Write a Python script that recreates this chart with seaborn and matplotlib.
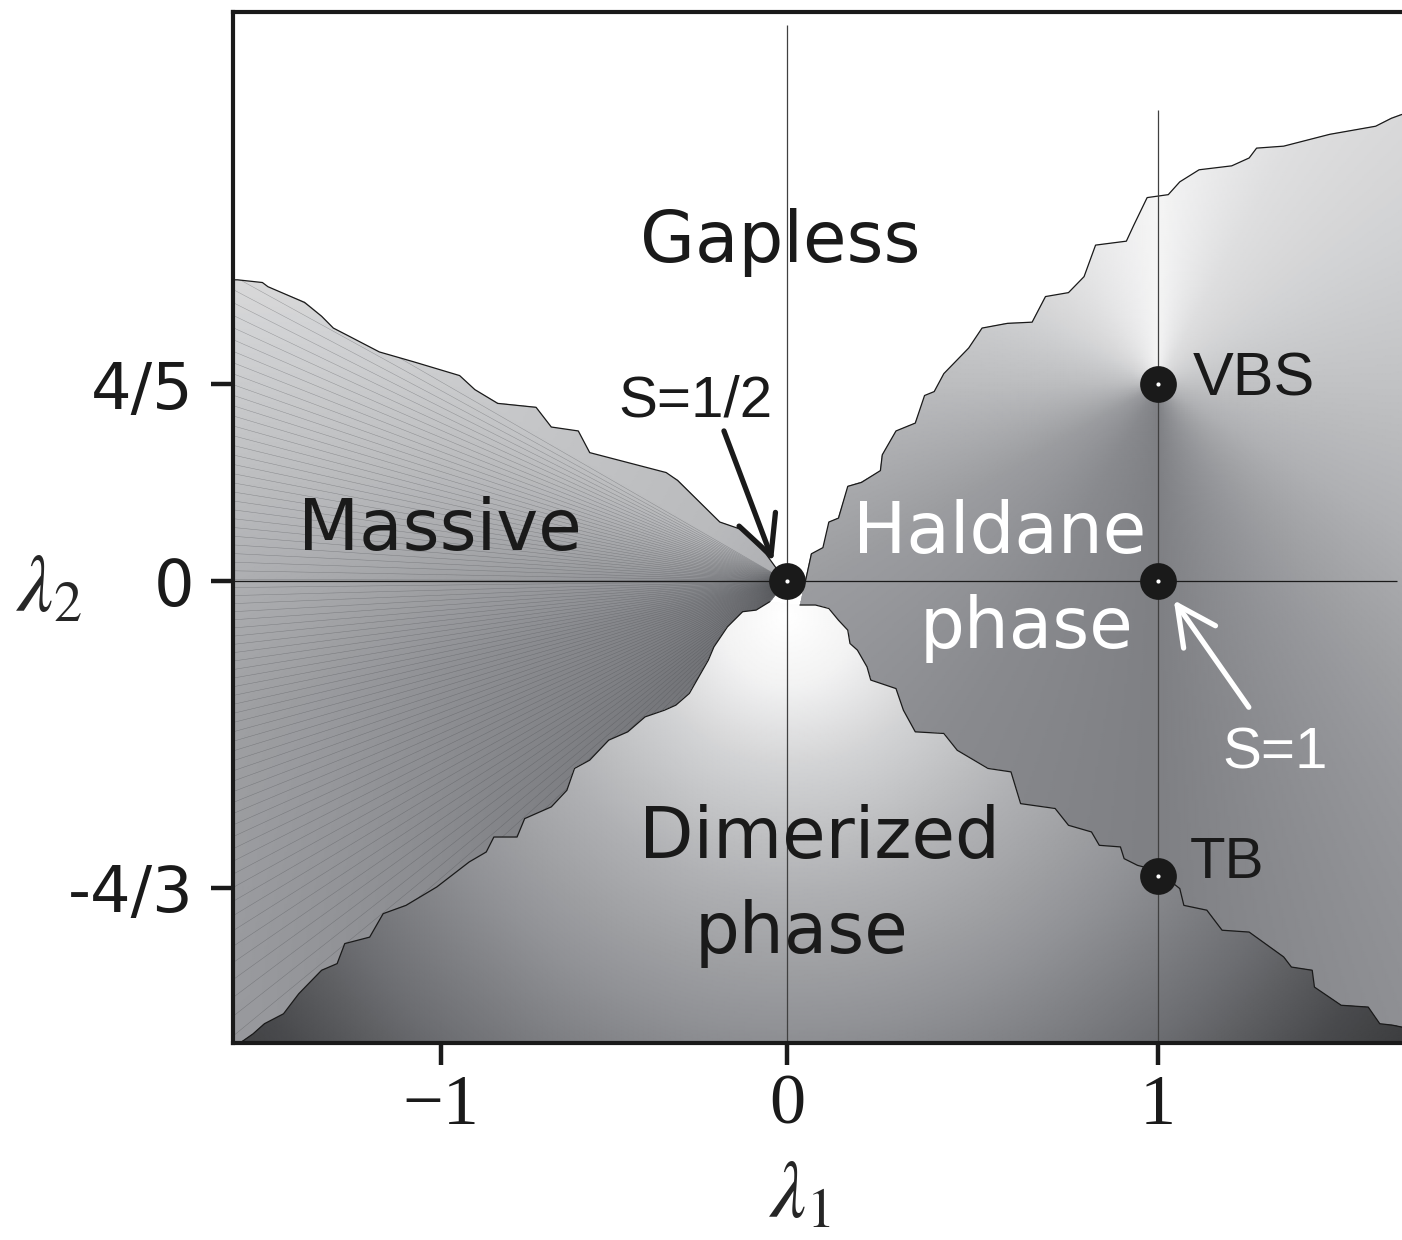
import numpy as np
import matplotlib
matplotlib.use("Agg")
import matplotlib.pyplot as plt
import seaborn as sns
from matplotlib.patches import Polygon
from matplotlib.colors import LinearSegmentedColormap

# phase boundaries (lambda1, lambda2)
# Massive / Gapless (left edge -> origin)
b1_x = [-1.601, -1.588, -1.516, -1.500, -1.394, -1.345, -1.311, -1.256, -1.178, -1.079,
        -0.946, -0.902, -0.836, -0.725, -0.681, -0.603, -0.570, -0.349, -0.316, -0.194,
        -0.128, -0.061, -0.028, 0.0]
b1_y = [1.224, 1.224, 1.213, 1.196, 1.132, 1.076, 1.028, 0.988, 0.931, 0.891,
        0.835, 0.778, 0.722, 0.706, 0.626, 0.610, 0.522, 0.441, 0.409, 0.240,
        0.208, 0.111, 0.047, 0.0]
# Gapless / Haldane (origin -> right edge)
b2_x = [0.050, 0.066, 0.097, 0.113, 0.139, 0.164, 0.201, 0.252, 0.257, 0.294, 0.346,
        0.371, 0.397, 0.423, 0.490, 0.526, 0.594, 0.661, 0.697, 0.759, 0.801, 0.832,
        0.915, 0.935, 0.971, 1.028, 1.059, 1.111, 1.199, 1.246, 1.266, 1.339, 1.463,
        1.587, 1.629, 1.658]
b2_y = [0.000, 0.111, 0.136, 0.240, 0.256, 0.385, 0.401, 0.449, 0.513, 0.610, 0.642,
        0.754, 0.770, 0.843, 0.947, 1.028, 1.047, 1.052, 1.156, 1.172, 1.237, 1.365,
        1.381, 1.446, 1.558, 1.570, 1.622, 1.671, 1.687, 1.719, 1.759, 1.767, 1.815,
        1.848, 1.880, 1.896]
# Massive / Dimerized (origin -> bottom left)
b3_x = [-0.050, -0.089, -0.128, -0.172, -0.211, -0.227, -0.260, -0.282, -0.321, -0.354,
        -0.410, -0.460, -0.515, -0.570, -0.614, -0.636, -0.681, -0.758, -0.780, -0.847,
        -0.869, -0.918, -1.012, -1.101, -1.167, -1.206, -1.278, -1.300, -1.345, -1.411,
        -1.455, -1.510, -1.543, -1.577, -1.599]
b3_y = [-0.090, -0.126, -0.133, -0.199, -0.286, -0.343, -0.430, -0.488, -0.539, -0.561,
        -0.590, -0.655, -0.691, -0.778, -0.814, -0.909, -0.981, -1.032, -1.112, -1.112,
        -1.177, -1.220, -1.329, -1.409, -1.445, -1.547, -1.575, -1.662, -1.691, -1.793,
        -1.880, -1.923, -1.967, -2.003, -2.010]
# Dimerized / Haldane (origin -> bottom right)
b4_x = [0.035, 0.077, 0.113, 0.139, 0.164, 0.170, 0.190, 0.216, 0.226, 0.294, 0.314,
        0.346, 0.423, 0.459, 0.542, 0.604, 0.630, 0.723, 0.759, 0.821, 0.842, 0.899,
        0.909, 0.945, 0.997, 1.059, 1.070, 1.132, 1.173, 1.246, 1.339, 1.360, 1.416,
        1.422, 1.494, 1.567, 1.598, 1.634, 1.658]
b4_y = [-0.104, -0.104, -0.119, -0.170, -0.213, -0.271, -0.300, -0.373, -0.430, -0.467,
        -0.561, -0.655, -0.662, -0.735, -0.814, -0.829, -0.967, -0.988, -1.061, -1.090,
        -1.148, -1.155, -1.206, -1.235, -1.257, -1.336, -1.409, -1.430, -1.517, -1.525,
        -1.633, -1.677, -1.691, -1.764, -1.843, -1.851, -1.923, -1.930, -1.938]

# grey levels read from the shading
massive_ang = [140, 160, 180, 200, 220, 235]
massive_gray = [0.83, 0.75, 0.67, 0.61, 0.58, 0.55]
massive_r = [0.0, 0.4, 1.0, 1.6, 2.2, 3.0]
massive_dr = [-0.15, -0.10, -0.07, -0.04, 0.0, 0.04]
haldane_ang = [-180, -150, -120, -90, -60, -30, 0, 30, 60, 90, 120, 150, 180]
haldane_gray = [0.74, 0.61, 0.54, 0.50, 0.59, 0.69, 0.76, 0.82, 0.87, 0.96, 0.90, 0.83, 0.74]
dimer_r = [0.0, 0.3, 0.65, 1.2, 1.8, 2.4, 2.9, 3.3]
dimer_gray = [1.0, 0.95, 0.83, 0.69, 0.57, 0.43, 0.29, 0.22]

# special points
pt_x = [0.0, 1.0, 1.0, 1.0]
pt_y = [0.0, 0.8, 0.0, -1.28]

xticks = [-1, 0, 1]
xticklabels = ["\u22121", "0", "1"]
yticks = [0.8, 0.0, -4 / 3]
yticklabels = ["4/5", "0", "-4/3"]

guide_x = [0.0, 1.0]
guide_top = [2.259, 1.914]
XLIM = (-1.601, 1.658)
YLIM = (-2.007, 2.312)


# the hand-drawn axes are slightly uneven: px per unit differs on each side of 0
def x_fwd(v):
    v = np.asarray(v, dtype=float)
    return np.where(v < 0, 346.0 * v, 371.0 * v)


def x_inv(p):
    p = np.asarray(p, dtype=float)
    return np.where(p < 0, p / 346.0, p / 371.0)


def y_fwd(v):
    v = np.asarray(v, dtype=float)
    return np.where(v < 0, 230.0 * v, 246.0 * v)


def y_inv(p):
    p = np.asarray(p, dtype=float)
    return np.where(p < 0, p / 230.0, p / 246.0)


sns.set_theme(style="white")
plt.rcParams["font.family"] = ["DejaVu Sans"]
plt.rcParams["mathtext.fontset"] = "stix"

fig = plt.figure(figsize=(14.02, 12.40), dpi=100)
ax = fig.add_axes([233 / 1402, 197 / 1240, 1169 / 1402, 1031 / 1240])
ax.set_xscale("function", functions=(x_fwd, x_inv))
ax.set_yscale("function", functions=(y_fwd, y_inv))
ax.set_xlim(*XLIM)
ax.set_ylim(*YLIM)

cmap = LinearSegmentedColormap.from_list("phase", ["#000000", "#7e8084", "#ffffff"])

gx = np.linspace(-1.75, 1.8, 500)
gy = np.linspace(-2.1, 2.4, 500)
GX, GY = np.meshgrid(gx, gy)

# Massive: fan of contour lines around the origin
theta_m = np.degrees(np.arctan2(GY, GX)) % 360
r_m = np.hypot(1.55 * GX, GY)
field_m = np.interp(theta_m, massive_ang, massive_gray) + np.interp(r_m, massive_r, massive_dr)

# Haldane: fan around VBS point
phi_h = np.degrees(np.arctan2(GY - 0.8, 1.55 * (GX - 1.0)))
field_h = np.interp(phi_h, haldane_ang, haldane_gray)

# Dimerized: bright spot just below the origin
r_d = np.hypot(1.55 * GX, GY + 0.15)
field_d = np.interp(r_d, dimer_r, dimer_gray)

massive_poly = np.column_stack([[-1.75] + b1_x + b3_x + [-1.75],
                                [1.224] + b1_y + b3_y + [-2.1]])
haldane_poly = np.column_stack([b2_x + [1.8, 1.8] + b4_x[::-1],
                                b2_y + [1.896, -1.938] + b4_y[::-1]])
dimer_poly = np.column_stack([b3_x + [-1.599, 1.8, 1.8] + b4_x[::-1],
                              b3_y + [-2.1, -2.1, -1.938] + b4_y[::-1]])

for field, verts in [(field_m, massive_poly), (field_h, haldane_poly), (field_d, dimer_poly)]:
    clip = Polygon(verts, closed=True, facecolor="none", edgecolor="none")
    ax.add_patch(clip)
    mesh = ax.pcolormesh(GX, GY, field, cmap=cmap, vmin=0, vmax=1,
                         shading="gouraud", zorder=1)
    mesh.set_clip_path(clip)
    if field is field_m:
        cs = ax.contour(GX, GY, theta_m, levels=np.arange(141, 240, 1.25),
                        colors="#4a4c50", linewidths=0.35, alpha=0.45, zorder=1.5)
        cs.set_clip_path(clip)

for bx, by in [(b1_x, b1_y), (b2_x, b2_y), (b3_x, b3_y), (b4_x, b4_y)]:
    ax.plot(bx, by, color="k", lw=0.9, zorder=2)

# guide lines
ax.vlines(guide_x, YLIM[0], guide_top, color="0.25", lw=0.9, zorder=2.5)
ax.hlines([0.0], XLIM[0], 1.644, color="0.1", lw=0.9, zorder=2.5)

sns.scatterplot(x=pt_x, y=pt_y, s=700, color="k", linewidth=0, ax=ax,
                legend=False, zorder=6)
sns.scatterplot(x=pt_x, y=pt_y, s=9, color="white", linewidth=0, ax=ax,
                legend=False, zorder=7)

# region labels
big = dict(fontsize=51, ha="center", va="baseline")
ax.text(-0.020, 1.297, "Gapless", color="k", **big)
ax.text(-1.003, 0.126, "Massive", color="k", **big)
ax.text(0.574, 0.114, "Haldane", color="white", **big)
ax.text(0.645, -0.291, "phase", color="white", **big)
ax.text(0.089, -1.204, "Dimerized", color="k", **big)
ax.text(0.038, -1.617, "phase", color="k", **big)

small = dict(fontfamily="Liberation Sans", va="baseline", ha="left")
ax.text(1.094, 0.752, "VBS", color="k", fontsize=44, **small)
ax.text(1.086, -1.291, "TB", color="k", fontsize=42, **small)
ax.text(-0.488, 0.667, "S=1/2", color="k", fontsize=42, **small)
ax.text(1.173, -0.813, "S=1", color="white", fontsize=42, **small)

ax.annotate("", xy=(-0.040, 0.081), xytext=(-0.182, 0.610),
            arrowprops=dict(arrowstyle="->,head_length=0.7,head_width=0.35", lw=3.8,
                            color="k", mutation_scale=40, shrinkA=0, shrinkB=0), zorder=8)
ax.annotate("", xy=(1.043, -0.083), xytext=(1.245, -0.548),
            arrowprops=dict(arrowstyle="->,head_length=0.7,head_width=0.35", lw=3.8,
                            color="white", mutation_scale=40, shrinkA=0, shrinkB=0), zorder=8)

ax.set_xticks(xticks)
ax.set_xticklabels(xticklabels, fontfamily="Liberation Serif", fontsize=52)
ax.set_yticks(yticks)
ax.set_yticklabels(yticklabels, fontsize=46)
ax.tick_params(axis="both", direction="inout", length=32, width=3.2, color="k",
               labelcolor="k", bottom=True, left=True)
ax.tick_params(axis="x", pad=6)
ax.tick_params(axis="y", pad=12)
ax.minorticks_off()

for side in ["top", "left", "bottom"]:
    ax.spines[side].set_linewidth(3)
    ax.spines[side].set_color("k")
ax.spines["right"].set_visible(False)
ax.grid(False)

ax.set_xlabel(r"$\lambda_1$", fontsize=58)
ax.xaxis.set_label_coords(0.485, -0.148)
ax.xaxis.label.set_va("center")
ax.set_ylabel(r"$\lambda_2$", fontsize=58, rotation=0)
ax.yaxis.set_label_coords(-0.157, 0.44)
ax.yaxis.label.set_va("center")
ax.yaxis.label.set_ha("center")

fig.savefig("out.png", dpi=100)
